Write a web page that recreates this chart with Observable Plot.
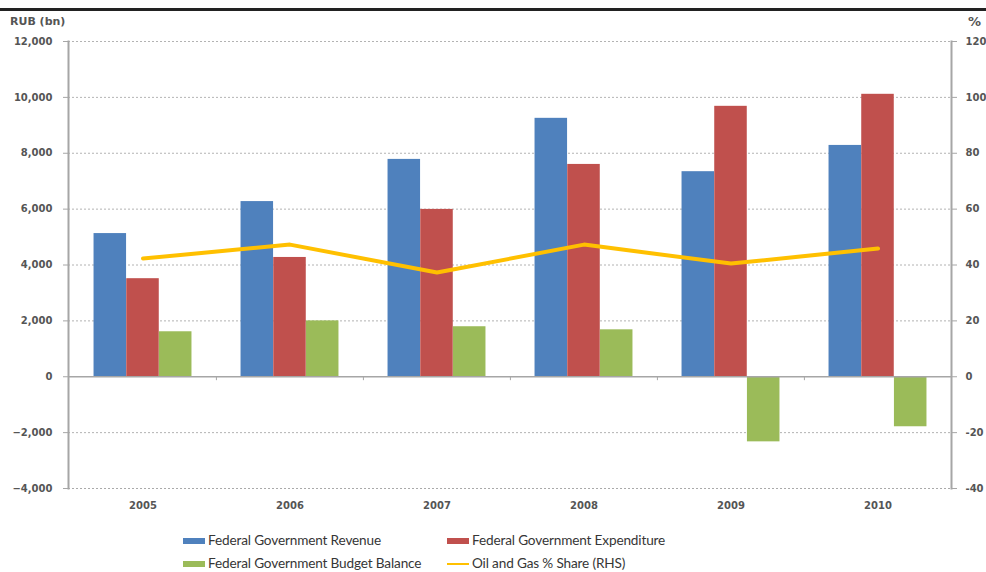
<!DOCTYPE html>
<html><head><meta charset="utf-8">
<script src="https://cdn.jsdelivr.net/npm/d3@7"></script>
<script src="https://cdn.jsdelivr.net/npm/@observablehq/plot@0.6"></script>
<style>
html,body{margin:0;padding:0;background:#fff}
body{width:986px;height:572px;overflow:hidden;position:relative;font-family:"DejaVu Sans",sans-serif}
#topline{position:absolute;left:0;top:8px;width:986px;height:3px;background:#222}
#chart{position:absolute;left:0;top:0}
.unit{position:absolute;font-weight:bold;color:#555;font-size:11px}
.leg{position:absolute;font-family:Lato,sans-serif;font-size:13.6px;letter-spacing:-0.15px;color:#363636;white-space:nowrap;line-height:16px}
.sw{display:inline-block;width:22px;height:6px;vertical-align:middle;margin-right:3px;position:relative;top:-1px}
.swl{display:inline-block;width:22px;height:2px;vertical-align:middle;margin-right:3px;position:relative;top:-1px}
</style></head>
<body>
<div id="chart"></div>
<div id="topline"></div>
<div class="unit" style="left:10px;top:15px">RUB (bn)</div>
<div class="unit" style="left:968px;top:14px;font-size:13px">%</div>
<div id="legend"></div>
<script>
const years = ["2005","2006","2007","2008","2009","2010"];
const revenue = [5125, 6270, 7780, 9250, 7340, 8280];
const expenditure = [3510, 4270, 5990, 7600, 9680, 10110];
const balance = [1610, 2000, 1790, 1680, -2330, -1790];
const oilGasShare = [42.3, 47.3, 37.3, 47.3, 40.5, 45.9];
const leftTicks = [-4000,-2000,0,2000,4000,6000,8000,10000,12000];
const seriesNames = ["Federal Government Revenue","Federal Government Expenditure","Federal Government Budget Balance","Oil and Gas % Share (RHS)"];
const colors = ["#4F81BD","#C0504D","#9BBB59","#FFC000"];

const rows = years.map((y,i)=>({year:y, revenue:revenue[i], expenditure:expenditure[i], balance:balance[i], share:oilGasShare[i]}));

const W = 986, mL = 68, mR = 35;
const band = (W - mL - mR) / years.length;
const bw = 32.7;
const inset = (band - bw) / 2;

const chart = Plot.plot({
  width: W, height: 525,
  marginLeft: mL, marginRight: mR, marginTop: 41, marginBottom: 37,
  style: {fontFamily: "DejaVu Sans, sans-serif", fontSize: "10px", background: "transparent"},
  x: {type: "band", domain: years, padding: 0, axis: null},
  y: {domain: [-4000, 12000], axis: null},
  marks: [
    Plot.gridY(leftTicks.filter(d => d !== 0 && d !== -4000), {stroke: "#999", strokeOpacity: 0.75, strokeDasharray: "2,2"}),
    Plot.ruleY([-4000], {stroke: "#aaa", strokeDasharray: "2,2"}),
    Plot.barY(rows, {x: "year", y: "revenue", fill: colors[0], insetLeft: inset, insetRight: inset, dx: -bw}),
    Plot.barY(rows, {x: "year", y: "expenditure", fill: colors[1], insetLeft: inset, insetRight: inset}),
    Plot.barY(rows, {x: "year", y: "balance", fill: colors[2], insetLeft: inset, insetRight: inset, dx: bw}),
    Plot.ruleY([0], {stroke: "#a6a6a6", strokeWidth: 1.5}),
    Plot.ruleX(years.slice(1), {x: d => d, y1: 0, y2: -140, stroke: "#a6a6a6", dx: -band/2}),
    Plot.frame({anchor: "left", stroke: "#a6a6a6", strokeWidth: 2}),
    Plot.frame({anchor: "right", stroke: "#a6a6a6", strokeWidth: 2}),
    Plot.line(rows, {x: "year", y: d => d.share * 100, stroke: colors[3], strokeWidth: 4, strokeLinejoin: "round"}),
    Plot.axisY({ticks: leftTicks, anchor: "left", tickSize: 5, tickPadding: 11, tickFormat: d3.format(","), stroke: "#a6a6a6", fill: "#555", fontWeight: "bold", label: null}),
    Plot.axisY({ticks: leftTicks, anchor: "right", tickSize: 5, tickPadding: 9, tickFormat: d => d / 100, stroke: "#a6a6a6", fill: "#555", fontWeight: "bold", label: null}),
    Plot.axisX({tickSize: 0, tickPadding: 13, fill: "#555", fontWeight: "bold", label: null})
  ]
});
document.getElementById("chart").appendChild(chart);

const leg = document.getElementById("legend");
const pos = [[183, 532], [447, 532], [183, 555], [447, 555]];
seriesNames.forEach((name, i) => {
  const d = document.createElement("div");
  d.className = "leg";
  d.style.left = pos[i][0] + "px";
  d.style.top = pos[i][1] + "px";
  const s = document.createElement("span");
  s.className = i === 3 ? "swl" : "sw";
  s.style.background = colors[i];
  d.appendChild(s);
  d.appendChild(document.createTextNode(name));
  leg.appendChild(d);
});
</script>
</body></html>
